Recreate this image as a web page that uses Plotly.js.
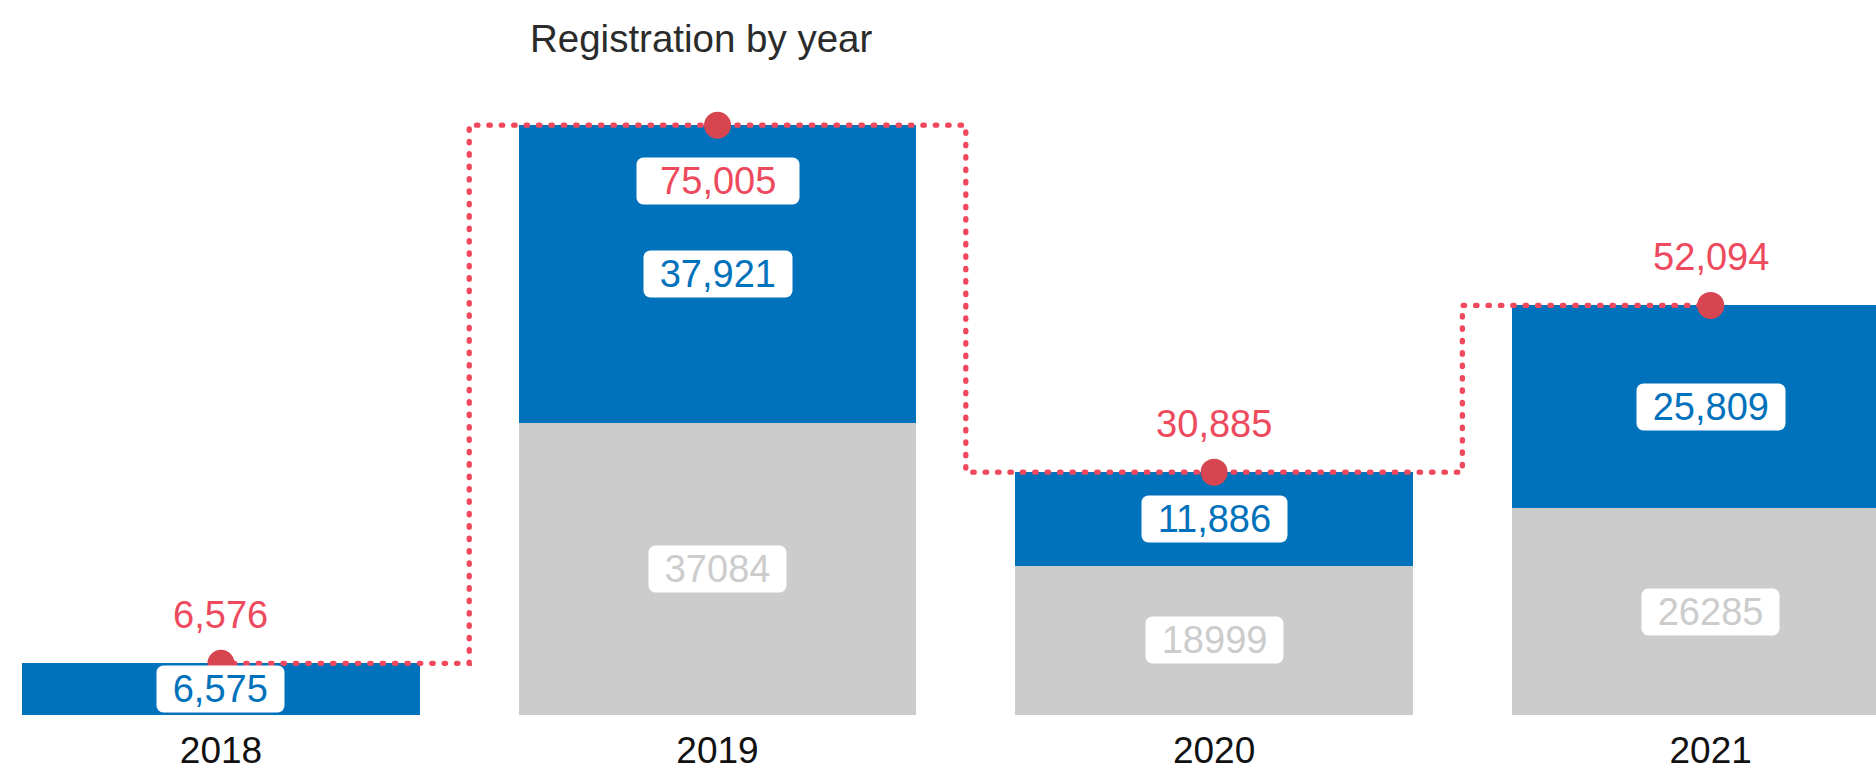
<!DOCTYPE html>
<html>
<head>
<meta charset="utf-8">
<script src="https://cdn.plot.ly/plotly-3.0.1.min.js"></script>
<style>
html, body { margin: 0; padding: 0; background: #ffffff; }
#chart { width: 1876px; height: 763px; }
</style>
</head>
<body>
<div id="chart"></div>
<script>
// ---- data ----
const years = ['2018', '2019', '2020', '2021'];
const previousValues = [0, 37084, 18999, 26285];      // grey part
const newValues = [6575, 37921, 11886, 25809];        // blue part
const totalValues = [6576, 75005, 30885, 52094];      // red step line
const totalLabelBelow = [false, true, false, false];

// ---- styles ----
const BLUE = '#0071bb';
const GREY = '#cccccc';
const RED_LINE = '#f0485c';
const RED_TEXT = '#ee4a5e';
const RED_DOT = '#d64550';
const FONT = '"Liberation Sans", Arial, sans-serif';
const FS = 38;

function fmt(v) { return v.toLocaleString('en-US'); }
function pad(s) { return '\u00a0\u200a' + s + '\u200a\u00a0'; }
function padWide(s) { return '\u00a0\u00a0' + s + '\u00a0\u00a0'; }

const traces = [
  {
    type: 'bar', x: years, y: previousValues,
    marker: { color: GREY }, hoverinfo: 'skip', showlegend: false
  },
  {
    type: 'bar', x: years, y: newValues,
    marker: { color: BLUE }, hoverinfo: 'skip', showlegend: false
  },
  {
    type: 'scatter', mode: 'lines+markers', x: years, y: totalValues,
    line: { shape: 'hvh', color: RED_LINE, width: 5.3, dash: '1.4px,11px' },
    marker: { color: RED_DOT, size: 27 },
    hoverinfo: 'skip', showlegend: false
  }
];

// annotations on a category axis are placed by category index
const annotations = [];
years.forEach((yr, i) => {
  if (previousValues[i] > 0) {
    annotations.push({
      x: i, y: previousValues[i] / 2, xref: 'x', yref: 'y',
      text: pad(String(previousValues[i])), showarrow: false,
      font: { family: FONT, size: FS, color: GREY },
      bgcolor: '#ffffff', borderpad: 2
    });
  }
  annotations.push({
    x: i, y: previousValues[i] + newValues[i] / 2, xref: 'x', yref: 'y',
    text: pad(fmt(newValues[i])), showarrow: false,
    font: { family: FONT, size: FS, color: BLUE },
    bgcolor: '#ffffff', borderpad: 2
  });
  annotations.push({
    x: i, y: totalValues[i], xref: 'x', yref: 'y',
    text: padWide(fmt(totalValues[i])), showarrow: false,
    yshift: totalLabelBelow[i] ? -56 : 48,
    font: { family: FONT, size: FS, color: RED_TEXT },
    bgcolor: '#ffffff', borderpad: 2
  });
});

const layout = {
  width: 1876, height: 763,
  margin: { l: 0, r: 0, t: 60, b: 48, pad: 0 },
  paper_bgcolor: '#ffffff', plot_bgcolor: '#ffffff',
  barmode: 'stack', bargap: 0.2,
  showlegend: false,
  title: {
    text: 'Registration by year',
    x: 0.2825, xanchor: 'left', xref: 'paper',
    y: 0.949, yanchor: 'middle',
    font: { family: FONT, size: 38.5, color: '#2b2b2b' }
  },
  xaxis: {
    type: 'category', range: [-0.445, 3.333],
    showgrid: false, zeroline: false, showline: false, ticks: '',
    ticklabelstandoff: 10,
    tickfont: { family: FONT, size: 37, color: '#111111' },
    fixedrange: true
  },
  yaxis: {
    range: [0, 83300], showgrid: false, zeroline: false, showline: false,
    showticklabels: false, ticks: '', fixedrange: true
  },
  annotations: annotations
};

Plotly.newPlot('chart', traces, layout, { displayModeBar: false, staticPlot: true }).then(() => {
  document.querySelectorAll('.annotation rect.bg').forEach(r => {
    r.setAttribute('rx', 7);
    r.setAttribute('ry', 7);
  });
  document.querySelectorAll('.scatterlayer path.js-line').forEach(p => {
    p.style.strokeLinecap = 'round';
  });
});
</script>
</body>
</html>
